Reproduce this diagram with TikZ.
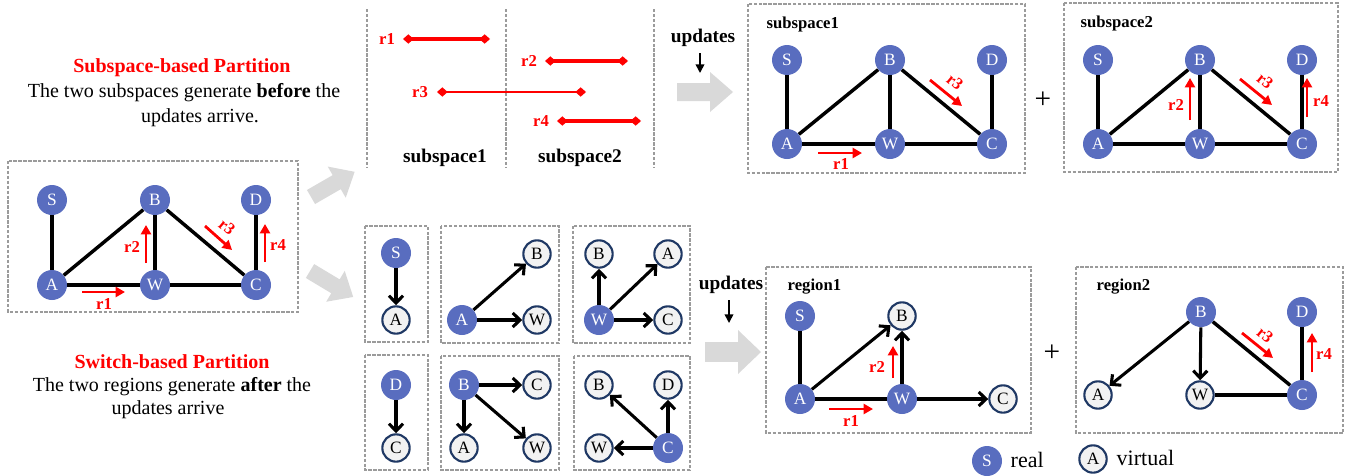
\documentclass[tikz,border=0pt]{standalone}
\usepackage{fontspec}
\setmainfont{Liberation Serif}
\usetikzlibrary{arrows.meta}

\definecolor{nodeblue}{RGB}{89,109,191}
\definecolor{vfill}{RGB}{242,242,242}
\definecolor{navy}{RGB}{31,56,100}
\definecolor{boxgray}{RGB}{155,155,155}
\definecolor{fatgray}{RGB}{217,217,217}
\definecolor{hired}{RGB}{255,0,0}

\newcommand\ndfont{\fontsize{13}{13}\selectfont}
\newcommand\rlfont{\bfseries\fontsize{12.5}{13}\selectfont}
\newcommand\hdfont{\fontsize{15}{18}\selectfont}
\newcommand\lbfont{\bfseries\fontsize{14.5}{16}\selectfont}
\newcommand\bxfont{\bfseries\fontsize{12.5}{14}\selectfont}
\newcommand\plfont{\fontsize{22}{22}\selectfont}
\newcommand\lgfont{\fontsize{16.5}{18}\selectfont}

\begin{document}
\begin{tikzpicture}[x=0.75pt,y=-0.75pt,
  real/.style={circle,fill=nodeblue,text=white,minimum size=22.5pt,inner sep=0pt,font=\ndfont},
  virt/.style={circle,fill=vfill,draw=navy,line width=1.6pt,minimum size=20.5pt,inner sep=0pt,font=\ndfont},
  link/.style={line width=2.6pt},
  dlink/.style={line width=2.3pt,-{Straight Barb[length=5.5pt,width=10.5pt]}},
  upd/.style={hired,line width=2.1pt,-{Triangle[length=7pt,width=7.5pt]}},
  rl/.style={text=hired,font=\rlfont,inner sep=0pt},
  dbox/.style={draw=boxgray,dash pattern=on 2.5pt off 1.2pt,line width=1pt},
  seg/.style={hired,line width=2.8pt,{Diamond[length=8pt,width=7pt]}-{Diamond[length=8pt,width=7pt]}},
  fatarrow/.pic={\fill[fatgray] (0,-9) -- (33,-9) -- (33,-20) -- (56,0) -- (33,20) -- (33,9) -- (0,9) -- cycle;},
  dnarrow/.style={line width=1.2pt,-{Triangle[length=6.5pt,width=6.5pt]}}
]
\useasboundingbox (0,0) rectangle (1348,475);

% ---------- explanatory texts ----------
\node[text=hired,font=\bfseries\hdfont] (t1) at (182,68) {Subspace-based Partition};
\node[font=\hdfont] (t2) at (184,93) {The two subspaces generate \textbf{before} the};
\node[font=\hdfont] (t3) at (200,118) {updates arrive.};
\node[text=hired,font=\bfseries\hdfont] (t4) at (172,362) {Switch-based Partition};
\node[font=\hdfont] (t5) at (172,387) {The two regions generate \textbf{after} the};
\node[font=\hdfont] (t6) at (168,410) {updates arrive};

% ---------- original graph ----------
\draw[dbox] (8,161) rectangle (298,312);
\node[real] (lS) at (52,200) {S};
\node[real] (lB) at (155,200) {B};
\node[real] (lD) at (256,200) {D};
\node[real] (lA) at (52,285) {A};
\node[real] (lW) at (155,285) {W};
\node[real] (lC) at (256,285) {C};
\draw[link] (lS) -- (lA);
\draw[link] (lA) -- (lB);
\draw[link] (lB) -- (lW);
\draw[link] (lB) -- (lC);
\draw[link] (lA) -- (lW);
\draw[link] (lW) -- (lC);
\draw[link] (lD) -- (lC);
\draw[upd] (82,292) -- (125,292);
\node[rl] at (104,304) {r1};
\draw[upd] (146,263) -- (146,225);
\node[rl] at (132,247) {r2};
\draw[upd] (205,226) -- (232,250);
\node[rl,rotate=-40] at (227,227) {r3};
\draw[upd] (265,262) -- (265,224);
\node[rl] at (278,245) {r4};

% ---------- big gray arrows ----------
\pic[rotate=30,scale=0.9] at (311,197) {fatarrow};
\pic[rotate=-31,scale=0.9] at (310,271) {fatarrow};
\pic at (677,92) {fatarrow};
\pic[yscale=1.1] at (705,352) {fatarrow};

% ---------- update intervals ----------
\draw[dbox] (367,9) -- (367,168);
\draw[dbox] (506,9) -- (506,168);
\draw[dbox] (654,9) -- (654,168);
\draw[seg] (403,39) -- (490,39);
\node[rl] at (387,39) {r1};
\draw[seg] (545,61) -- (628,61);
\node[rl] at (529,61) {r2};
\draw[seg,line width=2.2pt] (437,92) -- (586,92);
\node[rl] at (420,92) {r3};
\draw[seg] (557,121) -- (641,121);
\node[rl] at (541,121) {r4};
\node[font=\lbfont] (sp1) at (445,158) {subspace1};
\node[font=\lbfont] (sp2) at (580,158) {subspace2};

% ---------- updates labels ----------
\node[font=\lbfont] (u1) at (703,38) {updates};
\coordinate (u1e) at (700,73);
\draw[dnarrow] (u1.south -| u1e) ++(0,2) -- (u1e);
\node[font=\lbfont] (u2) at (731,285) {updates};
\coordinate (u2e) at (729,323);
\draw[dnarrow] (u2.south -| u2e) ++(0,2) -- (u2e);

% ---------- subspace1 ----------
\draw[dbox] (748,4) rectangle (1025,173);
\node[font=\bxfont,anchor=west] at (762,24) {subspace1};
\node[real] (aS) at (787,60) {S};
\node[real] (aB) at (890,60) {B};
\node[real] (aD) at (992,60) {D};
\node[real] (aA) at (787,144) {A};
\node[real] (aW) at (890,144) {W};
\node[real] (aC) at (992,144) {C};
\draw[link] (aS) -- (aA);
\draw[link] (aA) -- (aB);
\draw[link] (aB) -- (aW);
\draw[link] (aB) -- (aC);
\draw[link] (aA) -- (aW);
\draw[link] (aW) -- (aC);
\draw[link] (aD) -- (aC);
\draw[upd] (818,153) -- (862,153);
\node[rl] at (841,164) {r1};
\draw[upd] (930,80) -- (962,106);
\node[rl,rotate=-40] at (955,82) {r3};
\node[font=\plfont] at (1043,100) {+};

% ---------- subspace2 ----------
\draw[dbox] (1064,3) rectangle (1338,172);
\node[font=\bxfont,anchor=west] at (1076,23) {subspace2};
\node[real] (bS) at (1098,60) {S};
\node[real] (bB) at (1200,60) {B};
\node[real] (bD) at (1302,60) {D};
\node[real] (bA) at (1098,144) {A};
\node[real] (bW) at (1200,144) {W};
\node[real] (bC) at (1302,144) {C};
\draw[link] (bS) -- (bA);
\draw[link] (bA) -- (bB);
\draw[link] (bB) -- (bW);
\draw[link] (bB) -- (bC);
\draw[link] (bA) -- (bW);
\draw[link] (bW) -- (bC);
\draw[link] (bD) -- (bC);
\draw[upd] (1190,120) -- (1190,78);
\node[rl] at (1176,105) {r2};
\draw[upd] (1240,79) -- (1272,105);
\node[rl,rotate=-40] at (1265,81) {r3};
\draw[upd] (1307,117) -- (1307,78);
\node[rl] at (1321,101) {r4};

% ---------- switch neighbourhoods ----------
\draw[dbox] (365,226) rectangle (428,342);
\node[real] (c1S) at (396,253) {S};
\node[virt] (c1A) at (396,320) {A};
\draw[dlink] (c1S) -- (c1A);

\draw[dbox] (441,226) rectangle (559,343);
\node[real] (c2A) at (462,320) {A};
\node[virt] (c2B) at (537,254) {B};
\node[virt] (c2W) at (537,320) {W};
\draw[dlink] (c2A) -- (c2B);
\draw[dlink] (c2A) -- (c2W);

\draw[dbox] (573,226) rectangle (690,343);
\node[real] (c3W) at (599,320) {W};
\node[virt] (c3B) at (599,254) {B};
\node[virt] (c3A) at (668,254) {A};
\node[virt] (c3C) at (668,320) {C};
\draw[dlink] (c3W) -- (c3B);
\draw[dlink] (c3W) -- (c3A);
\draw[dlink] (c3W) -- (c3C);

\draw[dbox] (365,355) rectangle (428,470);
\node[real] (c4D) at (396,385) {D};
\node[virt] (c4C) at (396,448) {C};
\draw[dlink] (c4D) -- (c4C);

\draw[dbox] (441,356) rectangle (559,470);
\node[real] (c5B) at (464,385) {B};
\node[virt] (c5C) at (537,385) {C};
\node[virt] (c5A) at (464,448) {A};
\node[virt] (c5W) at (537,448) {W};
\draw[dlink] (c5B) -- (c5C);
\draw[dlink] (c5B) -- (c5A);
\draw[dlink] (c5B) -- (c5W);

\draw[dbox] (574,356) rectangle (690,470);
\node[real] (c6C) at (668,448) {C};
\node[virt] (c6B) at (599,385) {B};
\node[virt] (c6D) at (668,385) {D};
\node[virt] (c6W) at (599,448) {W};
\draw[dlink] (c6C) -- (c6B);
\draw[dlink] (c6C) -- (c6D);
\draw[dlink] (c6C) -- (c6W);

% ---------- region1 ----------
\draw[dbox] (766,267) rectangle (1031,433);
\node[font=\bxfont,anchor=west] at (783,287) {region1};
\node[real] (eS) at (800,316) {S};
\node[virt] (eB) at (902,316) {B};
\node[real] (eA) at (800,399) {A};
\node[real] (eW) at (902,399) {W};
\node[virt] (eC) at (1003,399) {C};
\draw[link] (eS) -- (eA);
\draw[dlink] (eA) -- (eB);
\draw[dlink] (eW) -- (eB);
\draw[link] (eA) -- (eW);
\draw[dlink] (eW) -- (eC);
\draw[upd] (893,378) -- (893,346);
\node[rl] at (877,367) {r2};
\draw[upd] (829,409) -- (873,409);
\node[rl] at (851,421) {r1};
\node[font=\plfont] at (1052,353) {+};

% ---------- region2 ----------
\draw[dbox] (1076,267) rectangle (1343,433);
\node[font=\bxfont,anchor=west] at (1092,287) {region2};
\node[real] (fB) at (1201,312) {B};
\node[real] (fD) at (1302,312) {D};
\node[virt] (fA) at (1098,395) {A};
\node[virt] (fW) at (1200,395) {W};
\node[real] (fC) at (1302,395) {C};
\draw[dlink] (fB) -- (fA);
\draw[dlink] (fB) -- (fW);
\draw[link] (fB) -- (fC);
\draw[link] (fW) -- (fC);
\draw[link] (fD) -- (fC);
\draw[upd] (1242,333) -- (1273,358);
\node[rl,rotate=-40] at (1265,335) {r3};
\draw[upd] (1312,372) -- (1312,333);
\node[rl] at (1324,354) {r4};

% ---------- legend ----------
\node[real] (gS) at (987,461) {S};
\node[font=\lgfont,anchor=west] at (1006,460) {real};
\node[virt] (gA) at (1093,459) {A};
\node[font=\lgfont,anchor=west] at (1112,458) {virtual};
\end{tikzpicture}
\end{document}
